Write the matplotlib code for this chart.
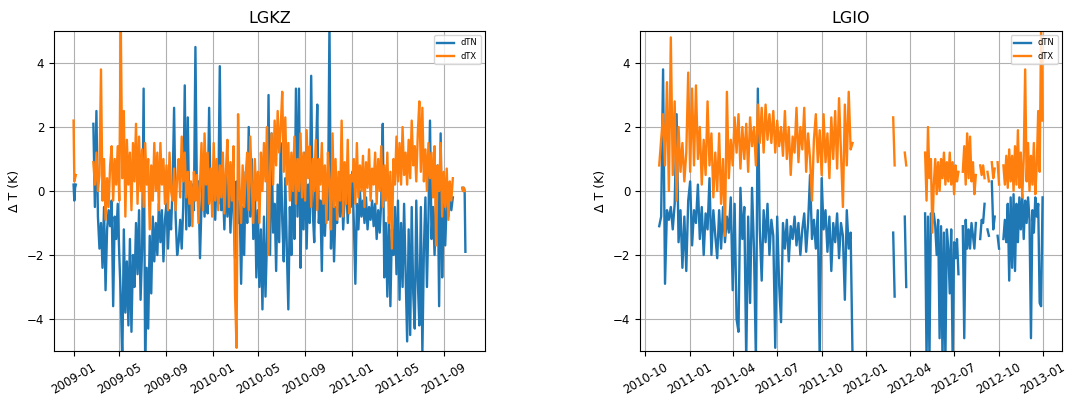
import numpy as np
import pandas as pd
import matplotlib
matplotlib.use('Agg')
import matplotlib.pyplot as plt
import matplotlib.dates as mdates

nan = np.nan

# ---------------- LGKZ (daily dTN / dTX) ----------------
# short bit at the start of January 2009, every 2 days
kz_tn_jan09 = [0.2, -0.3, 0.1, 0.2]
kz_tx_jan09 = [2.2, 0.3, 0.4, 0.5]

# main block from 2009-02-22, every 4 days
kz_tn_2009 = [2.1, -0.5, 2.5, -0.8,
              -1.8, -1.0, -2.4, -0.5, -3.1, -1.2,
              -0.6, -1.1, -0.3, -3.6, -0.8, -1.5, -0.4,
              -2.0, -3.3, -5.4, -1.2, -3.8, -2.2, -4.2, -1.5,
              -4.4, -2.0, -3.0, -1.0, -2.6, -0.6, -3.4, -1.8,
              3.2, -5.3, -2.4, -4.3, -1.4, -3.2, -0.8,
              -2.2, -1.0, -2.0, -0.4, -1.6, -0.6, -2.2, -0.9,
              -0.4, -1.8, -0.6, -1.2, 0.1, 2.6, -0.8, -2.0,
              -1.6, -0.9, -1.8, -0.5, 3.3, -1.2, 2.3,
              -1.1, -0.3, 0.2, -0.6, 4.5, -0.2, 0.3, -2.1,
              -0.4, 0.6, -0.8, 0.3, -0.7, 2.6, -0.3, 0.5]
kz_tx_2009 = [0.9, 0.2, 1.2, 0.0,
              0.5, 3.8, -0.3, 1.0, -0.9, 0.4,
              -0.5, 0.8, 1.4, -0.3, 1.0, 0.2, 1.4,
              -0.3, 5.2, 0.4, 2.5, -0.8, 1.6, 0.2, 1.2,
              -0.6, 1.5, 0.3, 2.1, -0.4, 1.7, 0.0, 1.3,
              -0.5, 1.5, 0.2, 1.0, -1.2, 0.8, -0.3,
              1.5, 0.0, 1.2, -0.6, 1.5, 0.2, 1.0, -0.4,
              0.8, -0.6, 1.2, 0.0, -0.3, 0.7, -0.6, 0.4,
              1.0, -0.2, 1.7, 0.3, 1.2, -0.2, 0.6,
              -0.4, 0.3, -1.1, 0.6, -0.3, 0.5, -1.0, 0.2,
              1.5, -0.6, 1.8, 0.2, 1.2, -0.4, 0.7, -0.8]
kz_tn_2010 = [0.3, -0.9, 0.6, -0.4, 3.9, -0.6, 0.2,
              -1.2, 0.5, -0.8, 0.4, -1.3, 0.2, -0.6,
              -2.1, 0.3, -1.0, -0.3, -2.9, -0.5, -2.0, 0.6,
              -1.0, 2.0, -0.8, 1.0, -1.5, 0.3, -2.7, -0.6,
              -3.0, -1.2, -3.7, -0.8, -3.3, -1.5, 3.0,
              -2.0, 1.8, -1.3, -0.4, -2.5, 0.2, -1.6, 1.5,
              -0.9, -2.2, 0.4, -1.8, -3.7, -0.5, -2.0, 1.0,
              -1.5, 3.2, -0.8, 3.2, -2.4, 0.4, -1.2,
              1.2, -1.8, 0.2, -1.0, 3.6, -0.6, -1.6, 0.8,
              2.7, -1.0, -0.3, -2.5, 0.5, -1.4, -0.2, -0.9,
              5.3, -1.8, 0.3, -2.2, -0.5, -1.0, 0.4,
              -0.8, 0.5, -1.2, -0.2, 0.3, -1.0, 0.2, -0.5]
kz_tx_2010 = [1.5, -0.3, 1.0, -0.6, 0.8, -0.2, 1.2,
              -0.7, 0.6, 1.6, -0.5, 0.9, -0.3, 1.4,
              -3.2, -4.9, 2.4, 0.0, -1.0, 0.8, -0.5, 0.5,
              1.2, -0.6, 1.7, 0.2, -1.0, 1.0, -0.3, 0.6,
              -1.0, 1.2, 0.0, 1.5, 0.3, 2.0, -2.0,
              0.6, 1.8, 0.2, 2.2, 0.8, 2.5, 1.2, 2.0,
              3.1, 0.6, 2.3, 0.2, 1.5, -0.3, 1.2, 0.0,
              1.7, -0.4, 1.0, 0.0, 1.8, -0.2, 1.2,
              -0.3, 1.9, 0.4, 1.4, -0.5, 1.0, 0.0, 1.6,
              -0.6, 1.0, 0.2, 1.5, -0.4, 0.8, -1.0, 1.2,
              0.3, -1.2, 1.8, -0.5, 1.0, -0.9, 0.6,
              -0.3, 2.2, -0.8, 0.9, -0.4, 1.6, -0.7, 0.5]
kz_tn_2011 = [0.6, -1.0, -2.9, -0.4, -1.2, 0.0, -0.8, -0.3,
              -1.0, -0.2, -1.2, -0.5, -0.9, -0.3, -1.1,
              -0.4, -1.5, -0.6, -1.3, -0.3, 2.1, -2.7,
              -1.0, -3.3, -0.8, -3.6, -1.2, -2.0, -0.5, -2.6,
              -0.3, -3.4, -1.0, -3.0, -0.4, -2.5, -4.7, -1.2,
              -4.5, -0.5, -3.2, -4.3, -0.3, -2.8, -4.2,
              -0.5, -5.1, -1.8, -0.2, -3.0, -0.8, 2.2, -1.5,
              -0.5, -2.0, -0.3, 0.8, -3.6, 1.8, -2.7, -0.4,
              -1.7, -0.3, -0.8, 0.1, -0.6, -0.2]
kz_tx_2011 = [0.3, 1.0, -0.4, 1.5, -0.2, 0.8, 0.0, 1.1,
              -0.5, 0.9, 0.1, 1.3, -0.3, 0.7, 0.2,
              1.2, -0.4, 1.0, 0.0, 1.4, -0.5, 0.8,
              -0.3, 1.2, -1.0, 0.6, -1.8, 1.0, 0.2, 1.7,
              0.3, 1.5, 0.2, 2.0, 0.5, 1.2, 0.2, 1.6,
              0.4, 2.2, 0.8, 1.4, 0.3, 1.8, 2.8,
              0.6, 2.6, 0.3, 1.3, 0.0, 1.5, 0.4, 1.2,
              -0.2, 1.4, -1.7, 0.8, 0.0, 1.5, -0.8, 0.6,
              -0.5, 0.7, -0.9, 0.3, -0.3, 0.4]

# last bit in October 2011, every 2 days
kz_tn_oct11 = [0.1, 0.0, 0.1, 0.0, -1.9]
kz_tx_oct11 = [0.1, 0.0, 0.1, 0.0, nan]

# ---------------- LGIO ----------------
# from 2010-10-30 to 2011-12-04, every 4 days
io_tn_2010 = [-1.1, -0.8, 3.8, -2.9, -0.6, -0.9, -0.5, -1.2,
              -0.4, 2.4, -1.6, -0.6, -2.4, -0.8, -2.5, -0.3]
io_tx_2010 = [0.8, 1.6, 2.4, 0.8, 3.4, 0.0, 4.8, 0.5,
              2.8, -0.3, 2.0, 0.6, 1.5, 0.3, 1.2, 3.7]
io_tn_2011 = [0.3, -1.7, -0.6, -1.0, 0.2, -1.5, -0.5, -2.0,
              -0.7, -1.2, 0.4, -2.0, -0.6, -1.4, -2.1,
              -0.6, -1.8, -0.5, -1.6, -0.8, -1.3, -0.2, -3.1,
              -0.4, -4.0, -4.4, 0.1, -1.5, -0.5, -5.3,
              -0.8, -3.5, 0.1, -1.8, -5.3, 3.2, -1.2, -2.8,
              -0.6, -1.6, -0.4, -2.0, -0.9, -1.4, -4.9,
              -0.8, -2.9, -4.1, -1.0, -1.8, -0.9, -2.2, -1.1,
              -1.5, -0.8, -1.7, -1.0, -2.0, -1.2, -0.7, -1.9,
              -1.0, 0.5, -1.5, -0.9, -1.8, -0.6, -5.3,
              0.4, -1.2, -0.6, -1.9, -0.8, -2.5, -1.0, -1.6,
              -0.7, -2.1, -1.0, -1.4, -3.4, -0.6, -1.8, -1.3, -5.3]
io_tx_2011 = [0.6, 3.2, 0.8, 3.3, 1.0, 2.0, 0.2, 1.6,
              0.5, 2.8, 0.8, 1.8, -0.2, 1.2, 0.0,
              1.8, -0.4, 1.0, -1.4, 3.1, 0.4, 1.6, 0.8,
              2.3, 1.2, 2.4, 0.7, 2.0, 1.0, 2.1,
              0.6, 2.3, 1.4, 2.0, 0.8, 2.7, 1.5, 2.6,
              1.2, 2.7, 1.6, 2.4, 1.5, 2.5, 1.2,
              2.2, 1.4, 2.0, 1.1, 2.5, 1.0, 2.0, 0.5,
              1.7, 1.2, 2.6, 0.9, 2.0, 1.3, 2.6, 0.6,
              1.8, 1.0, -0.3, 1.6, 2.4, 0.9, 1.9,
              0.5, 2.4, 0.9, 1.8, 0.4, 2.3, 1.0, 2.5,
              0.7, 2.9, 1.2, -0.5, 2.7, 0.8, 3.1, 1.3, 1.5]

# 2012 from 2012-02-26, every 3 days, nan = missing
io_tn_2012 = [-1.3, -3.3, nan, nan, nan, nan, nan, nan,
              -0.8, -3.0, nan, nan, nan, nan, nan, nan, nan, nan, nan, nan, nan, nan,
              -0.7, -5.3, -0.8, -5.3, -0.7, -1.0, -0.7,
              -1.1, -2.0, -0.9, -4.6, -1.1, -5.3, -1.3, -5.3, -1.2,
              -1.8, -3.2, -1.2, -5.3, -1.6, -2.1, -1.5, -2.6,
              nan, nan,
              -1.1, -4.6, -0.9, -1.8, -1.2, -1.8, -1.0, -1.4, -1.8, -1.0,
              nan, nan,
              -1.5, -0.9, -1.0, -0.4, nan, -1.2, -1.4, nan,
              0.3, -1.2, -0.8, nan, -1.4, -1.8, nan, nan,
              -1.5, -0.9, -1.6, -0.4, -2.8, -0.2, -2.4, -0.1, -2.5, -0.4,
              -1.6, -0.2, -1.2, -0.1, -1.5, -0.3, -1.0, -0.2, -0.9, -4.6,
              -0.6, -1.3, -0.2, -0.8, -0.4, -3.5, -3.6, -0.2]
io_tx_2012 = [2.3, 0.8, nan, nan, nan, nan, nan, nan,
              1.2, 0.8, nan, nan, nan, nan, nan, nan, nan, nan, nan, nan, nan, nan,
              1.2, -0.3, 2.0, 0.4, 1.0, -1.3, 0.2,
              1.0, -0.1, 0.9, 0.0, 1.0, 0.4, 1.2, 0.2, 0.9,
              0.3, 1.2, 0.2, 0.9, -0.1, 0.8, 0.3, 0.6,
              nan, nan,
              0.6, 1.4, 0.2, 1.8, 0.4, 1.7, 0.3, 0.9, -0.1, 0.5,
              nan, nan,
              0.8, 0.5, 0.8, 0.4, nan, 0.6, 0.3, nan,
              0.9, 0.4, 0.7, nan, 0.9, 0.2, nan, nan,
              0.8, 0.2, 1.1, 0.1, 1.3, 0.3, 1.1, 0.0, 1.4, 0.2,
              1.9, 0.1, 1.2, -0.2, 1.0, 3.8, 0.3, 1.5, 0.0, 1.1,
              0.2, 1.5, -0.1, 0.8, 2.5, 0.6, 5.2, 2.2]


def to_series(start, step, *chunks):
    vals = np.concatenate([np.asarray(c, dtype=float) for c in chunks])
    idx = pd.date_range(start, periods=len(vals), freq=f'{step}D')
    return pd.Series(vals, index=idx)


def join(*parts):
    # a nan between the pieces so the line breaks on the gaps
    out = []
    for p in parts:
        out.append(p)
        out.append(pd.Series([nan], index=[p.index[-1] + pd.Timedelta(days=1)]))
    return pd.concat(out[:-1])


kz_tn = join(to_series('2009-01-01', 2, kz_tn_jan09),
             to_series('2009-02-22', 4, kz_tn_2009, kz_tn_2010, kz_tn_2011),
             to_series('2011-10-19', 2, kz_tn_oct11))
kz_tx = join(to_series('2009-01-01', 2, kz_tx_jan09),
             to_series('2009-02-22', 4, kz_tx_2009, kz_tx_2010, kz_tx_2011),
             to_series('2011-10-19', 2, kz_tx_oct11))
io_tn = join(to_series('2010-10-30', 4, io_tn_2010, io_tn_2011),
             to_series('2012-02-26', 3, io_tn_2012))
io_tx = join(to_series('2010-10-30', 4, io_tx_2010, io_tx_2011),
             to_series('2012-02-26', 3, io_tx_2012))

fig = plt.figure(figsize=(10.73, 4.0), dpi=100)
ax1 = fig.add_axes([0.0503, 0.1225, 0.4017, 0.80])
ax2 = fig.add_axes([0.5965, 0.1225, 0.3930, 0.80])

panels = [(ax1, 'LGKZ', kz_tn, kz_tx, [1, 5, 9]),
          (ax2, 'LGIO', io_tn, io_tx, [1, 4, 7, 10])]

for ax, name, tn, tx, months in panels:
    ax.plot(tn.index, tn.values, lw=1.7, label='dTN')
    ax.plot(tx.index, tx.values, lw=1.7, label='dTX')
    ax.set_ylim(-5, 5)
    ax.set_title(name, fontsize=11.5)
    ax.set_ylabel('Δ T (K)', fontsize=9)
    ax.grid(True)
    ax.legend(loc='upper right', fontsize=6)
    ax.xaxis.set_major_locator(mdates.MonthLocator(bymonth=months))
    ax.xaxis.set_major_formatter(mdates.DateFormatter('%Y-%m'))
    ax.tick_params(labelsize=8.5)
    plt.setp(ax.get_xticklabels(), rotation=30, ha='center')

fig.savefig('out.png', dpi=100)
